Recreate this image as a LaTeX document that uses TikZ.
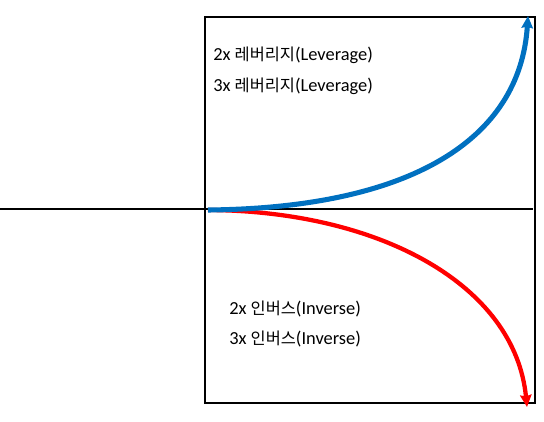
\documentclass[tikz,border=0pt]{standalone}
\usepackage{fontspec}
\setmainfont{Carlito}
\newfontfamily\krfont{Noto Sans CJK KR}
\usetikzlibrary{arrows.meta}
\definecolor{levblue}{RGB}{0,112,192}
\definecolor{invred}{RGB}{255,0,0}
\newcommand{\kr}[1]{{\krfont\fontsize{12.3}{15}\selectfont #1}}
\begin{document}
\begin{tikzpicture}[x=0.75pt,y=-0.75pt,
  lbl/.style={anchor=west,inner sep=0pt,font=\fontsize{13.8}{16}\selectfont},
  curvearrow/.style={line width=3.8pt,-{Stealth[length=9pt,width=8.5pt,inset=1pt]}}]
\useasboundingbox (0,0) rectangle (544,422);
\draw[line width=0.8pt] (205,17) rectangle (535,403);
\draw[line width=0.8pt] (0,209) -- (533,209);
\coordinate (o) at (208,210);
\coordinate (bt) at (528,16);
\coordinate (rt) at (527,407);
\draw[curvearrow,invred,line width=3.2pt] (o) .. controls (380,211) and (515,285) .. (rt);
\draw[curvearrow,levblue] (o) .. controls (410,208) and (520,140) .. (bt);
\node[lbl] (t1) at (213,55) {2x \kr{레버리지}(Leverage)};
\node[lbl] (t2) at (213,86) {3x \kr{레버리지}(Leverage)};
\node[lbl] (t3) at (229,309) {2x \kr{인버스}(Inverse)};
\node[lbl] (t4) at (229,339) {3x \kr{인버스}(Inverse)};
\end{tikzpicture}
\end{document}
